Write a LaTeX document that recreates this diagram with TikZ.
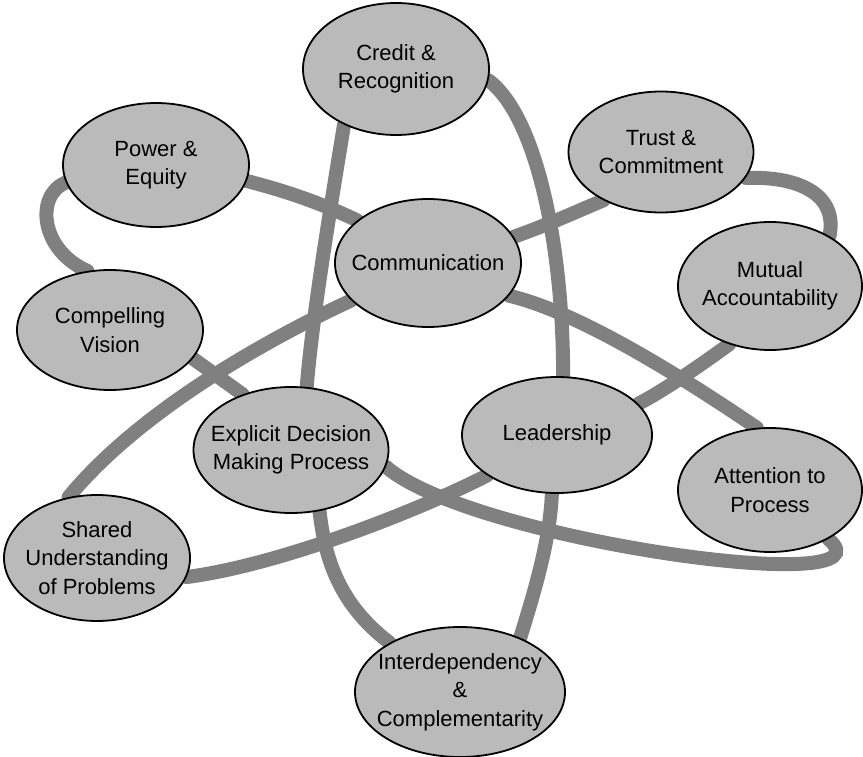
\documentclass[tikz,border=0pt]{standalone}
\usepackage{fontspec}
\setmainfont{Liberation Sans}
\usetikzlibrary{shapes.geometric, backgrounds}
\tikzstyle{factor} = [ellipse, draw, line width=1.8pt, fill=black!27,
    text=black, align=center, inner xsep=-40pt, inner ysep=-12pt,
    font=\fontsize{22}{28.5}\selectfont]
\tikzstyle{band} = [draw, line width=14pt, black!50, line cap=round]

\begin{document}
\begin{tikzpicture}[x=1pt, y=-1pt]
    \useasboundingbox (0,0) rectangle (863,757);
    % Nodes
    \node [factor, minimum width=186pt, minimum height=132pt] (credit) at (396,69) {Credit \&\\Recognition};
    \node [factor, minimum width=185pt, minimum height=121pt] (trust) at (661,152) {Trust \&\\Commitment};
    \node [factor, minimum width=186pt, minimum height=124pt] (power) at (156,165) {Power \&\\Equity};
    \node [factor, minimum width=186pt, minimum height=128pt] (comm) at (428,263) {Communication};
    \node [factor, minimum width=184pt, minimum height=128pt] (mutual) at (770,286) {Mutual\\Accountability};
    \node [factor, minimum width=186pt, minimum height=120pt] (compel) at (110,330) {Compelling\\Vision};
    \node [factor, minimum width=195pt, minimum height=126pt] (explicit) at (291,450) {Explicit Decision\\Making Process};
    \node [factor, minimum width=190pt, minimum height=116pt] (leader) at (557,435) {Leadership};
    \node [factor, minimum width=184pt, minimum height=124pt] (attention) at (770,490) {Attention to\\Process};
    \node [factor, minimum width=186pt, minimum height=126pt] (shared) at (97,558) {Shared\\Understanding\\of Problems};
    \node [factor, minimum width=210pt, minimum height=130pt] (interdep) at (460,692) {Interdependency\\\&\\Complementarity};
    % Bands
    \begin{scope}[on background layer]
    \path [band] (credit.227) .. controls (330,210) and (312,320) .. (explicit.76);
    \path [band] (explicit.-65) .. controls (325,560) and (340,605) .. (interdep.145);
    \path [band] (credit.-7) .. controls (535,115) and (563,240) .. (leader.84);
    \path [band] (leader.265) .. controls (550,540) and (535,590) .. (interdep.42);
    \path [band] (power.-10) .. controls (290,192) and (325,205) .. (comm.149);
    \path [band] (power.191) .. controls (35,195) and (40,250) .. (compel.111);
    \path [band] (comm.17) .. controls (550,224) and (580,210) .. (trust.220);
    \path [band] (trust.-17) .. controls (800,176) and (838,195) .. (mutual.40);
    \path [band] (comm.-22) .. controls (570,310) and (660,362) .. (attention.102);
    \path [band] (mutual.235) .. controls (705,362) and (665,390) .. (leader.21);
    \path [band] (comm.206) .. controls (270,338) and (140,410) .. (shared.115);
    \path [band] (compel.-19) -- (explicit.131);
    \path [band] (explicit.-10) .. controls (470,540) and (900,600) .. (attention.-40);
    \path [band] (shared.-12) .. controls (280,565) and (420,510) .. (leader.210);
    \end{scope}
\end{tikzpicture}
\end{document}
